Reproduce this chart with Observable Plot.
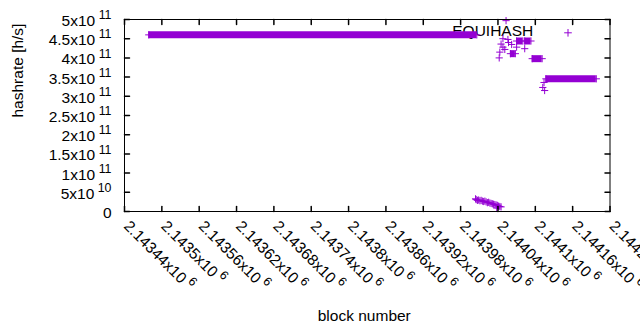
<!DOCTYPE html>
<html><head><meta charset="utf-8">
<script src="https://cdn.jsdelivr.net/npm/d3@7"></script>
<script src="https://cdn.jsdelivr.net/npm/@observablehq/plot@0.6"></script>
<style>
html,body{margin:0;padding:0;background:#fff;}
#chart{width:640px;height:330px;overflow:hidden;}
svg{font-family:"Liberation Sans",Arial,sans-serif;}
</style></head><body><div id="chart"></div>
<script>
const seriesName = "EQUIHASH";
const xTitle = "block number";
const yTitle = "hashrate [h/s]";

// x ticks (block numbers) and their labels (mantissa, exponent 6)
const xTicks = [2143440, 2143500, 2143560, 2143620, 2143680, 2143740, 2143800, 2143860, 2143920, 2143980, 2144040, 2144100, 2144160, 2144220];
const xTickLabels = ["2.14344", "2.1435", "2.14356", "2.14362", "2.14368", "2.14374", "2.1438", "2.14386", "2.14392", "2.14398", "2.14404", "2.1441", "2.14416", "2.14422"];
const xTickExponent = "6";

// y ticks (hashrate) and labels ("mantissa^exponent")
const yTicks = [0, 5e10, 1e11, 1.5e11, 2e11, 2.5e11, 3e11, 3.5e11, 4e11, 4.5e11, 5e11];
const yTickLabels = ["0", "5x10^10", "1x10^11", "1.5x10^11", "2x10^11", "2.5x10^11", "3x10^11", "3.5x10^11", "4x10^11", "4.5x10^11", "5x10^11"];

// dense runs of consecutive blocks at (nearly) constant hashrate
const runStart = [2143479, 2144060, 2144070, 2144083, 2144095, 2144117];
const runEnd   = [2144006, 2144068, 2144080, 2144093, 2144111, 2144198];
const runHashrate = [4.60e11, 4.11e11, 4.44e11, 4.44e11, 3.98e11, 3.455e11];

// individual blocks
const pointBlock = [
  2144004, 2144005, 2144007, 2144009, 2144011, 2144013, 2144015, 2144017, 2144019, 2144021,
  2144023, 2144025, 2144027, 2144029, 2144031, 2144033, 2144035, 2144037, 2144038, 2144039,
  2144041, 2144043, 2144045,
  2144042, 2144043, 2144045, 2144048, 2144048, 2144051, 2144053, 2144056, 2144057, 2144062,
  2144070, 2144083, 2144112, 2144114, 2144115
];
const pointHashrate = [
  3.3e10, 3.1e10, 2.9e10, 3.0e10, 2.8e10, 2.9e10, 2.7e10, 2.6e10, 2.7e10, 2.5e10,
  2.3e10, 2.4e10, 2.2e10, 2.1e10, 2.0e10, 1.9e10, 1.8e10, 1.7e10, 0.9e10, 1.6e10,
  1.4e10, 1.3e10, 1.2e10,
  4.00e11, 4.15e11, 4.36e11, 4.50e11, 4.28e11, 4.22e11, 4.97e11, 4.48e11, 4.40e11, 4.35e11,
  4.28e11, 4.24e11, 3.23e11, 3.36e11, 3.15e11
];

const color = "#9400d3";
const plusSymbol = {draw(c, size) {
  const r = Math.sqrt(size / Math.PI);
  c.moveTo(-r, 0); c.lineTo(r, 0); c.moveTo(0, -r); c.lineTo(0, r);
}};
const tickShape = {draw(c, l) { c.moveTo(0, 0); c.lineTo(0, -l); }};

const runs = runStart.map((s, i) => ({start: s, end: runEnd[i], value: runHashrate[i]}));
const pts = pointBlock.map((b, i) => ({block: b, value: pointHashrate[i]}));

const chart = Plot.plot({
  width: 640, height: 330,
  marginLeft: 124, marginRight: 30.5, marginTop: 19, marginBottom: 119,
  style: {fontFamily: '"Liberation Sans", Arial, sans-serif', fontSize: "15.5px", background: "white", color: "black", overflow: "hidden"},
  x: {domain: [2143440, 2144220], axis: null},
  y: {domain: [0, 5e11], axis: null},
  marks: [
    Plot.text([seriesName], {frameAnchor: "top-right", text: d => d, textAnchor: "end", lineAnchor: "middle", dx: -76.8, dy: 12, fill: "black"}),
    Plot.ruleY(runs, {y: "value", x1: "start", x2: "end", stroke: color, strokeWidth: 7}),
    Plot.dot(runs, {x: "start", y: "value", symbol: plusSymbol, r: 3.6, stroke: color, fill: "none", strokeWidth: 1}),
    Plot.dot(runs, {x: "end", y: "value", symbol: plusSymbol, r: 3.6, stroke: color, fill: "none", strokeWidth: 1}),
    Plot.dot(pts, {x: "block", y: "value", symbol: plusSymbol, r: 3.6, stroke: color, fill: "none", strokeWidth: 1}),
    Plot.dot([seriesName], {frameAnchor: "top-right", dx: -42, dy: 13.3, symbol: plusSymbol, r: 3.8, stroke: color, fill: "none", strokeWidth: 1}),
    Plot.vector(yTicks, {y: d => d, frameAnchor: "left", rotate: 90, length: 5, anchor: "start", shape: tickShape, stroke: "black"}),
    Plot.vector(yTicks, {y: d => d, frameAnchor: "right", rotate: -90, length: 5, anchor: "start", shape: tickShape, stroke: "black"}),
    Plot.vector(xTicks, {x: d => d, frameAnchor: "bottom", rotate: 0, length: 5, anchor: "start", shape: tickShape, stroke: "black"}),
    Plot.vector(xTicks, {x: d => d, frameAnchor: "top", rotate: 180, length: 5, anchor: "start", shape: tickShape, stroke: "black"}),
    Plot.frame({stroke: "black"}),
    Plot.text(yTicks, {y: d => d, frameAnchor: "left", text: (d, i) => yTickLabels[i], textAnchor: "end", dx: -13, dy: 1.5, lineAnchor: "middle", fill: "black"}),
    Plot.text(xTicks, {x: d => d, frameAnchor: "bottom", text: (d, i) => xTickLabels[i] + "x10^" + xTickExponent, rotate: 45, textAnchor: "start", lineAnchor: "middle", dx: 2, dy: 12, fill: "black"}),
    Plot.text([yTitle], {frameAnchor: "left", text: d => d, rotate: -90, lineAnchor: "middle", dx: -106, dy: 2, fill: "black"}),
    Plot.text([xTitle], {frameAnchor: "bottom", text: d => d, lineAnchor: "middle", dx: -3, dy: 105, fill: "black"})
  ]
});

// typeset exponents as raised, smaller text
chart.querySelectorAll("text").forEach(t => {
  const s = t.textContent;
  if (!s.includes("^")) return;
  const [base, exp] = s.split("^");
  t.textContent = "";
  const ns = "http://www.w3.org/2000/svg";
  const a = document.createElementNS(ns, "tspan");
  a.textContent = base;
  const b = document.createElementNS(ns, "tspan");
  b.textContent = " " + exp;
  b.setAttribute("dy", "-0.55em");
  b.setAttribute("font-size", "0.8em");
  t.appendChild(a); t.appendChild(b);
});
document.getElementById("chart").appendChild(chart);
</script>
</body></html>
